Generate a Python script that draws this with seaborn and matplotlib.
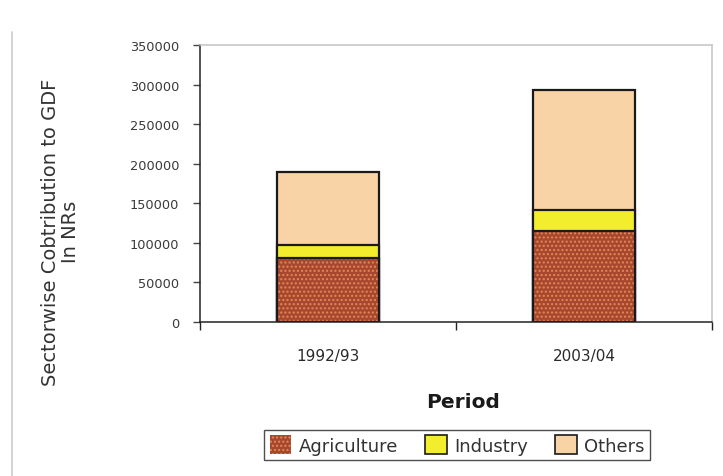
import matplotlib
matplotlib.use("Agg")
import matplotlib.pyplot as plt
from matplotlib.lines import Line2D
import seaborn as sns
import pandas as pd

periods = ["1992/93", "2003/04"]
agriculture = [81000, 115500]
industry = [16000, 25500]
others = [93000, 152500]
y_ticks = [0, 50000, 100000, 150000, 200000, 250000, 300000, 350000]

sns.set_theme(style="white")
plt.rcParams["font.family"] = ["DejaVu Sans"]

df = pd.DataFrame({"Period": periods,
                   "Agriculture": agriculture,
                   "Industry": industry,
                   "Others": others})
df["AgInd"] = df["Agriculture"] + df["Industry"]
df["Total"] = df["AgInd"] + df["Others"]

fig = plt.figure(figsize=(7.23, 4.77), dpi=100)
ax = fig.add_axes([0.2766, 0.3229, 0.9848 - 0.2766, 0.9036 - 0.3229])

col_agri = "#a8472f"
col_dots = "#e08a55"
col_ind = "#f2ee2e"
col_oth = "#f8d3a6"
bw = 0.4

# stacked segments drawn top-down from cumulative totals
sns.barplot(data=df, x="Period", y="Total", color=col_oth, width=bw,
            edgecolor="#1a1a1a", linewidth=1.6, saturation=1, ax=ax)
sns.barplot(data=df, x="Period", y="AgInd", color=col_ind, width=bw,
            edgecolor="#1a1a1a", linewidth=1.6, saturation=1, ax=ax)
sns.barplot(data=df, x="Period", y="Agriculture", color=col_agri, width=bw,
            edgecolor=col_dots, linewidth=0, saturation=1, hatch="....", ax=ax)
sns.barplot(data=df, x="Period", y="Agriculture", fill=False, width=bw,
            edgecolor="#1a1a1a", linewidth=1.6, ax=ax)

ax.set_xlim(-0.5, 1.5)
ax.set_ylim(0, 350000)
ax.set_yticks(y_ticks)
ax.set_yticklabels([str(v) for v in y_ticks], fontsize=9.3, color="#3a3a3a")
ax.set_xticks([0, 1])
ax.set_xticklabels(periods, fontsize=11, color="#2a2a2a")
ax.set_xticks([-0.5, 0.5, 1.5], minor=True)
ax.tick_params(axis="x", which="major", length=0, pad=19)
ax.tick_params(axis="x", which="minor", length=6, width=1, color="#222222",
               direction="out", bottom=True)
ax.tick_params(axis="y", which="major", length=5, width=1, color="#444444",
               direction="out", left=True, pad=10)

for side in ["left", "bottom"]:
    ax.spines[side].set_color("#222222")
    ax.spines[side].set_linewidth(1.1)
for side in ["top", "right"]:
    ax.spines[side].set_color("#c4c4c4")
    ax.spines[side].set_linewidth(1.1)

ax.set_xlabel("")
ax.set_ylabel("")
fig.text(0.640, 0.157, "Period", ha="center", va="center", fontsize=14.5,
         color="#1a1a1a", fontweight="bold")
fig.text(0.084, 0.514, "Sectorwise Cobtribution to GDF\nIn NRs", rotation=90,
         ha="center", va="center", fontsize=14, color="#333333",
         linespacing=1.1)

handles = [
    plt.Rectangle((0, 0), 1, 1, facecolor=col_agri, edgecolor=col_dots,
                  hatch="....", linewidth=0),
    plt.Rectangle((0, 0), 1, 1, facecolor=col_ind, edgecolor="#1a1a1a", linewidth=1.2),
    plt.Rectangle((0, 0), 1, 1, facecolor=col_oth, edgecolor="#1a1a1a", linewidth=1.2),
]
leg = fig.legend(handles, ["Agriculture", "Industry", "Others"], ncol=3,
                 loc="center", bbox_to_anchor=(0.632, 0.065), frameon=True,
                 fancybox=False, edgecolor="#222222", fontsize=13,
                 handlelength=1.2, handleheight=1.2, handletextpad=0.4,
                 columnspacing=1.5, borderpad=0.3)
leg.get_frame().set_linewidth(1.0)
for t in leg.get_texts():
    t.set_color("#333333")

fig.add_artist(Line2D([0.017, 0.017], [0.0, 0.93], color="#cccccc", lw=1.2))

fig.savefig("out.png", dpi=100, facecolor="white")
